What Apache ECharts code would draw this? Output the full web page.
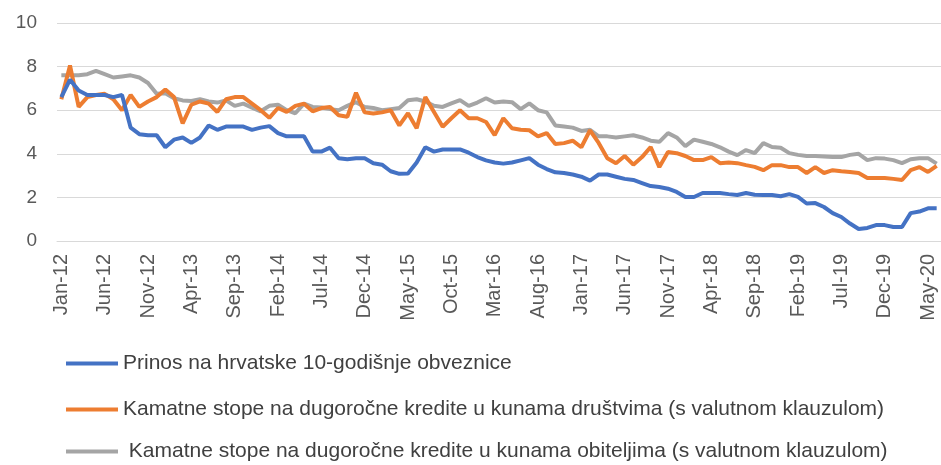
<!DOCTYPE html>
<html>
<head>
<meta charset="utf-8">
<script src="https://cdn.jsdelivr.net/npm/echarts@6/dist/echarts.min.js"></script>
<style>
  html, body { margin: 0; padding: 0; background: #fff; }
  #chart { width: 941px; height: 465px; }
</style>
</head>
<body>
<div id="chart"></div>
<script>
// mjeseci Jan-12 .. Jun-20
const monthNames = ['Jan','Feb','Mar','Apr','May','Jun','Jul','Aug','Sep','Oct','Nov','Dec'];
const months = [];
for (let y = 12; y <= 20; y++) {
  for (let m = 0; m < 12; m++) {
    if (y === 20 && m > 5) break;
    months.push(monthNames[m] + '-' + y);
  }
}

const seriesNames = [
  'Prinos na hrvatske 10-godišnje obveznice',
  'Kamatne stope na dugoročne kredite u kunama društvima (s valutnom klauzulom)',
  ' Kamatne stope na dugoročne kredite u kunama obiteljima (s valutnom klauzulom)'
];

const yTicks = [0, 2, 4, 6, 8, 10];

const prinos = [
  6.6, 7.4, 6.9, 6.7, 6.7, 6.7, 6.6, 6.7, 5.2, 4.9, 4.85, 4.85,
  4.3, 4.65, 4.75, 4.5, 4.75, 5.3, 5.1, 5.25, 5.25, 5.25, 5.1, 5.2,
  5.27, 4.95, 4.8, 4.8, 4.8, 4.1, 4.1, 4.28, 3.8, 3.75, 3.8, 3.8,
  3.57, 3.5, 3.2, 3.08, 3.1, 3.6, 4.3, 4.1, 4.2, 4.2, 4.2, 4.05,
  3.85, 3.7, 3.6, 3.55, 3.6, 3.7, 3.8, 3.5, 3.3, 3.15, 3.12, 3.05,
  2.95, 2.77, 3.05, 3.05, 2.95, 2.85, 2.8, 2.66, 2.52, 2.48, 2.4, 2.25,
  2.02, 2.02, 2.2, 2.2, 2.2, 2.15, 2.11, 2.2, 2.12, 2.11, 2.11, 2.05,
  2.15, 2.02, 1.72, 1.74, 1.56, 1.28, 1.1, 0.8, 0.55, 0.6, 0.73, 0.73,
  0.64, 0.64, 1.28, 1.35, 1.5, 1.5
];

const drustva = [
  6.5, 8.05, 6.15, 6.6, 6.7, 6.75, 6.5, 6.0, 6.7, 6.15, 6.4, 6.6,
  6.95, 6.6, 5.4, 6.25, 6.4, 6.3, 5.92, 6.5, 6.6, 6.6, 6.3, 6.0,
  5.65, 6.1, 5.92, 6.2, 6.3, 5.95, 6.1, 6.15, 5.77, 5.7, 6.8, 5.9,
  5.85, 5.9, 6.0, 5.3, 5.86, 5.17, 6.6, 5.92, 5.24, 5.63, 6.0, 5.63,
  5.63, 5.46, 4.86, 5.63, 5.17, 5.1, 5.08, 4.8, 4.95, 4.45, 4.49, 4.6,
  4.3, 5.08, 4.5, 3.8, 3.57, 3.9, 3.5, 3.85, 4.31, 3.39, 4.08, 4.03,
  3.9, 3.71, 3.71, 3.85, 3.57, 3.6, 3.57, 3.48, 3.4, 3.25, 3.48, 3.48,
  3.39, 3.39, 3.12, 3.39, 3.12, 3.25, 3.2, 3.17, 3.12, 2.89, 2.89, 2.89,
  2.85, 2.8, 3.25, 3.39, 3.17, 3.45
];

const obitelji = [
  7.6, 7.6, 7.6, 7.65, 7.8, 7.65, 7.5, 7.55, 7.6, 7.5, 7.25, 6.75,
  6.78, 6.55, 6.45, 6.42, 6.5, 6.4, 6.35, 6.45, 6.2, 6.3, 6.12, 5.95,
  6.2, 6.25, 6.0, 5.86, 6.3, 6.15, 6.12, 6.05, 6.0, 6.2, 6.37, 6.15,
  6.1, 6.0, 6.05, 6.1, 6.46, 6.5, 6.4, 6.2, 6.15, 6.31, 6.46, 6.2,
  6.35, 6.55, 6.35, 6.4, 6.37, 6.05, 6.31, 6.0, 5.9, 5.3, 5.25, 5.2,
  5.05, 5.1, 4.8, 4.8, 4.75, 4.8, 4.85, 4.75, 4.6, 4.55, 4.95, 4.75,
  4.35, 4.65, 4.55, 4.45, 4.3, 4.1, 3.94, 4.17, 4.03, 4.49, 4.31, 4.28,
  4.03, 3.95, 3.9, 3.9, 3.88, 3.85, 3.85, 3.95, 4.0, 3.71, 3.8, 3.78,
  3.71, 3.57, 3.75, 3.8, 3.8, 3.55
];

const colors = ['#4472C4', '#ED7D31', '#A5A5A5'];

const chart = echarts.init(document.getElementById('chart'));

const legendTops = [353, 399, 441];
const legendFont = { fontSize: 21, color: '#404040', fontFamily: 'Liberation Sans' };

const option = {
  animation: false,
  backgroundColor: '#fff',
  grid: { left: 57, right: -2, top: 23, bottom: 224 },
  legend: seriesNames.map((n, i) => ({
    data: [n],
    left: 66,
    top: legendTops[i],
    icon: 'rect',
    itemWidth: 52,
    itemHeight: 4,
    itemGap: 0,
    padding: 0,
    selectedMode: false,
    textStyle: legendFont
  })),
  xAxis: {
    type: 'category',
    data: months,
    boundaryGap: true,
    axisLine: { lineStyle: { color: '#d9d9d9', width: 1 } },
    axisTick: { interval: 4, length: 7, lineStyle: { color: '#d9d9d9' } },
    axisLabel: {
      interval: 4,
      rotate: 90,
      margin: 13,
      fontSize: 20,
      color: '#595959',
      fontFamily: 'Liberation Sans'
    },
    splitLine: { show: false }
  },
  yAxis: {
    type: 'value',
    min: yTicks[0],
    max: yTicks[yTicks.length - 1],
    interval: 2,
    axisLine: { show: false },
    axisTick: { show: false },
    axisLabel: { margin: 20, fontSize: 19, color: '#595959', fontFamily: 'Liberation Sans' },
    splitLine: { lineStyle: { color: '#d9d9d9', width: 1 } }
  },
  series: [prinos, drustva, obitelji].map((d, i) => ({
    name: seriesNames[i],
    type: 'line',
    data: d,
    symbol: 'none',
    smooth: false,
    z: 3 - i,
    itemStyle: { color: colors[i] },
    lineStyle: { color: colors[i], width: 4 }
  }))
};

chart.setOption(option);
</script>
</body>
</html>
